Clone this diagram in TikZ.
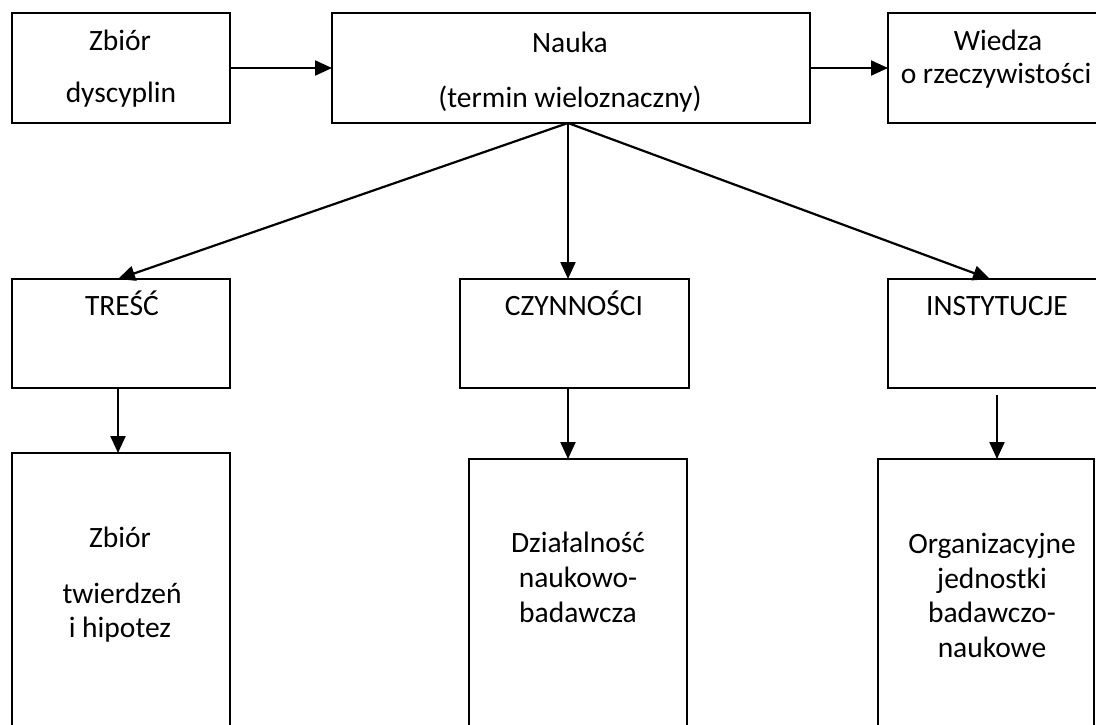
\documentclass[tikz,border=0pt]{standalone}
\usepackage{fontspec}
\setmainfont{Carlito}
\usetikzlibrary{arrows.meta}
\begin{document}
\begin{tikzpicture}[x=1pt,y=-1pt,
  box/.style={draw, line width=2.6pt, inner sep=0pt, outer sep=0pt},
  lbl/.style={anchor=base, inner sep=0pt, font=\fontsize{29.5}{35}\selectfont},
  link/.style={line width=2.2pt, -{Triangle[length=17pt,width=15pt]}}]
\useasboundingbox (0,0) rectangle (1096,724);
\clip (0,0) rectangle (1096,724);

% top row
\node[box, minimum width=218pt, minimum height=110pt] (dysc) at (121,68) {};
\node[box, minimum width=478pt, minimum height=110pt] (nauka) at (571,68) {};
\node[box, minimum width=230pt, minimum height=110pt] (wiedza) at (1003,68) {};

% middle row
\node[box, minimum width=218pt, minimum height=109pt] (tresc) at (121,333.5) {};
\node[box, minimum width=229pt, minimum height=109pt] (czyn) at (574.5,333.5) {};
\node[box, minimum width=230pt, minimum height=109pt] (inst) at (1003,333.5) {};

% bottom row
\node[box, minimum width=218pt, minimum height=287pt] (twierdz) at (121,596.5) {};
\node[box, minimum width=218pt, minimum height=281pt] (dzial) at (578,599.5) {};
\node[box, minimum width=216pt, minimum height=281pt] (org) at (986,599.5) {};

% labels
\node[lbl] (l-zb1) at (120,50) {Zbiór};
\node[lbl] (l-zb2) at (121,102) {dyscyplin};
\node[lbl] (l-na1) at (570,52) {Nauka};
\begin{scope}
  \clip (nauka.north west) rectangle (nauka.south east);
  \node[lbl] (l-na2) at (570,107) {(termin wieloznaczny)};
\end{scope}
\node[lbl] (l-wi1) at (998,50) {Wiedza};
\node[lbl] (l-wi2) at (996,83) {o rzeczywistości};

\node[lbl] (l-tr) at (122,315) {TREŚĆ};
\node[lbl] (l-cz) at (574,315) {CZYNNOŚCI};
\node[lbl] (l-in) at (997,315) {INSTYTUCJE};

\node[lbl] (l-tw1) at (120,547) {Zbiór};
\node[lbl] (l-tw2) at (122,603) {twierdzeń};
\node[lbl] (l-tw3) at (120,637) {i hipotez};

\node[lbl] (l-dz1) at (578,552) {Działalność};
\node[lbl] (l-dz2) at (578,587) {naukowo-};
\node[lbl] (l-dz3) at (578,622) {badawcza};

\node[lbl] (l-or1) at (992,553) {Organizacyjne};
\node[lbl] (l-or2) at (992,588) {jednostki};
\node[lbl] (l-or3) at (992,622) {badawczo-};
\node[lbl] (l-or4) at (992,657) {naukowe};

% connectors
\coordinate (hub) at ([xshift=-3pt]nauka.south);
\draw[link] (dysc.east) -- (nauka.west);
\draw[link] (nauka.east) -- (wiedza.west);
\draw[link] (hub) -- ([xshift=-3pt]tresc.north);
\draw[link] (hub) -- (hub |- czyn.north);
\draw[link] (hub) -- ([xshift=-13pt]inst.north);
\draw[link] ([xshift=-3pt]tresc.south) -- ([xshift=-3pt]twierdz.north);
\draw[link] ([xshift=-6.5pt]czyn.south) -- ([xshift=-10pt]dzial.north);
\draw[link] ([xshift=-6pt,yshift=-7pt]inst.south) -- ([xshift=11pt]org.north);
\end{tikzpicture}
\end{document}
